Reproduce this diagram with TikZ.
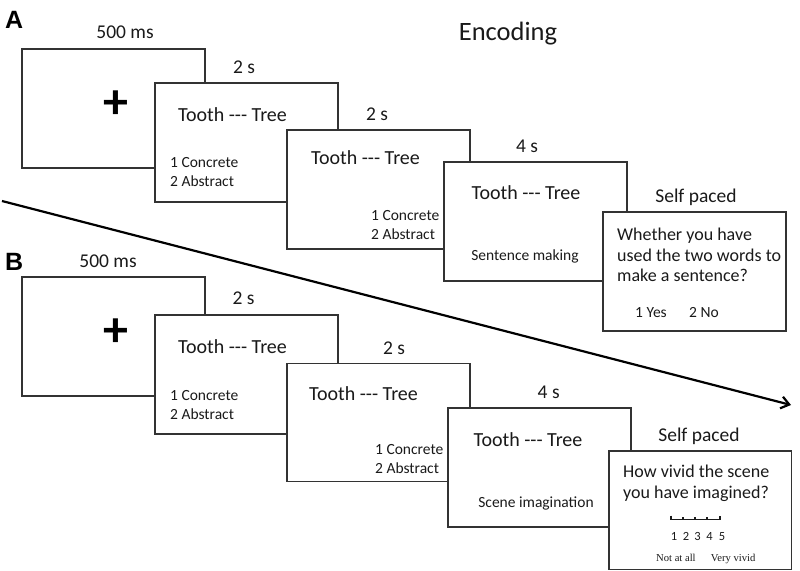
\documentclass[tikz,border=0pt]{standalone}
\usepackage{fontspec}
\setmainfont{Carlito}
\newfontfamily\labfont{Liberation Sans}
\newfontfamily\serifont{Liberation Serif}
\usetikzlibrary{arrows.meta}
\definecolor{ink}{HTML}{1A1A1A}
\definecolor{linec}{HTML}{333333}
\newcommand{\tdash}{-{}-{}-}
\tikzset{
  screen/.style={draw=linec, line width=1.5pt, fill=white, inner sep=0pt,
    minimum width=183pt, minimum height=119pt, anchor=north west},
  txt/.style={inner sep=0pt, text=ink, anchor=base},
  txtl/.style={inner sep=0pt, text=ink, anchor=base west},
  big/.style={font=\fontsize{19.5}{22}\selectfont},
  word/.style={font=\fontsize{20}{23}\selectfont},
  small/.style={font=\fontsize{15.5}{18}\selectfont},
  quest/.style={font=\fontsize{18}{21}\selectfont},
  panel/.style={inner sep=0pt, text=black, anchor=base west, font=\labfont\bfseries\fontsize{25}{28}\selectfont},
  cross/.style={inner sep=0pt, text=black, font=\bfseries\fontsize{50}{50}\selectfont},
}
\begin{document}
\begin{tikzpicture}[x=1pt,y=-1pt]
\useasboundingbox[fill=white] (0,0) rectangle (800,570);

% ---------- Panel A ----------
\node[panel] (labA) at (5,28) {A};
\node[txt, font=\fontsize{26.5}{30}\selectfont] (enc) at (508,40) {Encoding};

\node[screen] (a1) at (21,48) {};
\node[txt,big] (ta1) at (125,38.3) {500 ms};
\node[cross] (pa) at (116,105) {+};

\node[screen] (a2) at (154,82) {};
\node[txt,big] (ta2) at (244,73.3) {2 s};
\node[txt,word] (wa2) at (232.5,121) {Tooth \tdash{} Tree};
\node[txtl,small] (ca2) at (170,167.7) {1 Concrete};
\node[txtl,small] (aa2) at (170,186.7) {2 Abstract};

\node[screen] (a3) at (286,129.3) {};
\node[txt,big] (ta3) at (377,120.7) {2 s};
\node[txt,word] (wa3) at (365.5,164) {Tooth \tdash{} Tree};
\node[txtl,small] (ca3) at (371,220.5) {1 Concrete};
\node[txtl,small] (aa3) at (371,239.5) {2 Abstract};

\node[screen] (a4) at (443,161) {};
\node[txt,big] (ta4) at (527,152.3) {4 s};
\node[txt,word] (wa4) at (526,199.3) {Tooth \tdash{} Tree};
\node[txt,small] (sa4) at (525,260.7) {Sentence making};

\node[screen] (a5) at (602,211) {};
\node[txt,big] (ta5) at (696,202) {Self paced};
\node[txtl,quest] (qa1) at (617,240) {Whether you have};
\node[txtl,quest] (qa2) at (617,261.7) {used the two words to};
\node[txtl,quest] (qa3) at (617,281.7) {make a sentence?};
\node[txtl,small] (ya5) at (635,317) {1 Yes};
\node[txtl,small] (na5) at (689,317) {2 No};

% ---------- Timeline arrow ----------
\coordinate (ts) at (2,201);
\coordinate (te) at (791,405);
\draw[line width=2.2pt, draw=black, -{Straight Barb[length=8pt,width=12pt]}] (ts) -- (te);

% ---------- Panel B ----------
\node[panel] (labB) at (5,270) {B};

\node[screen] (b1) at (21,276) {};
\node[txt,big] (tb1) at (108,267) {500 ms};
\node[cross] (pb) at (116,333) {+};

\node[screen] (b2) at (154,314.3) {};
\node[txt,big] (tb2) at (243.6,304) {2 s};
\node[txt,word] (wb2) at (232.5,353.3) {Tooth \tdash{} Tree};
\node[txtl,small] (cb2) at (170,400) {1 Concrete};
\node[txtl,small] (ab2) at (170,419.3) {2 Abstract};

\node[screen, minimum height=118pt] (b3) at (286,362.5) {};
\node[txt,big] (tb3) at (394,354) {2 s};
\node[txt,word] (wb3) at (363.5,400) {Tooth \tdash{} Tree};
\node[txtl,small] (cb3) at (375,454) {1 Concrete};
\node[txtl,small] (ab3) at (375,473) {2 Abstract};

\node[screen] (b4) at (447,407) {};
\node[txt,big] (tb4) at (548.7,398.3) {4 s};
\node[txt,word] (wb4) at (528,446) {Tooth \tdash{} Tree};
\node[txt,small] (sb4) at (536,507) {Scene imagination};

\node[screen, minimum width=182.5pt, minimum height=118.5pt] (b5) at (608.3,450) {};
\node[txt,big] (tb5) at (699,441.7) {Self paced};
\node[txtl,quest] (qb1) at (623,477.3) {How vivid the scene};
\node[txtl,quest] (qb2) at (623,498.3) {you have imagined?};

% rating scale
\draw[draw=ink, line width=1.5pt] (671,515.5) -- (671,519.3) -- (720,519.3) -- (720,515.5);
\foreach \tx in {683,695,707} \draw[draw=ink, line width=1.3pt] (\tx,519.3) -- (\tx,517);
\foreach \tx/\tn in {674/1,686/2,697.5/3,709.5/4,722/5}
  \node[txt, font=\fontsize{12.5}{14}\selectfont] (n\tn) at (\tx,540) {\tn};
\node[txtl, font=\serifont\fontsize{10.6}{12}\selectfont] (na) at (656,561.7) {Not at all};
\node[txtl, font=\serifont\fontsize{10.6}{12}\selectfont] (vv) at (710.7,561.7) {Very vivid};
\end{tikzpicture}
\end{document}
